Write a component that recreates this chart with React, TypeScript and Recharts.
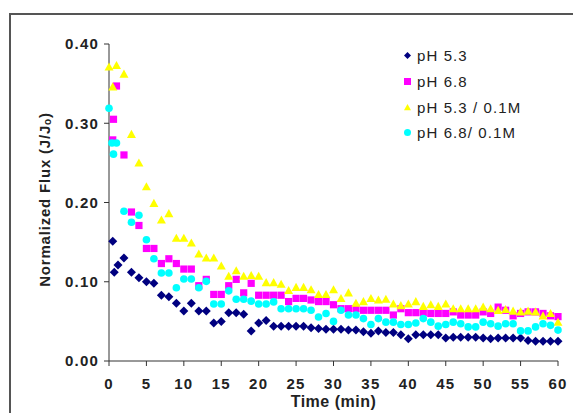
import { ScatterChart, Scatter, XAxis, YAxis, Legend, Label } from "recharts";

// integer minutes shared by all series after the first couple of readings
const minutes = [
  2, 3, 4, 5, 6, 7, 8, 9, 10, 11, 12, 13, 14, 15, 16, 17, 18, 19, 20, 21, 22, 23, 24, 25, 26, 27, 28, 29, 30, 31,
  32, 33, 34, 35, 36, 37, 38, 39, 40, 41, 42, 43, 44, 45, 46, 47, 48, 49, 50, 51, 52, 53, 54, 55, 56, 57, 58, 59, 60,
];

const xTicks = [0, 5, 10, 15, 20, 25, 30, 35, 40, 45, 50, 55, 60];
const yTicks = [0, 0.1, 0.2, 0.3, 0.4];

// pH 5.3
const ph53Start = [0.5, 0.7, 1.2];
const ph53StartFlux = [0.151, 0.112, 0.121];
const ph53Flux = [
  0.13, 0.112, 0.105, 0.1, 0.098, 0.083, 0.081, 0.073, 0.063, 0.073,
  0.063, 0.063, 0.048, 0.05, 0.061, 0.061, 0.059, 0.038, 0.048, 0.051,
  0.044, 0.044, 0.044, 0.044, 0.044, 0.042, 0.041, 0.04, 0.04, 0.04,
  0.039, 0.039, 0.037, 0.035, 0.038, 0.036, 0.036, 0.033, 0.028, 0.033,
  0.033, 0.033, 0.033, 0.029, 0.03, 0.03, 0.03, 0.03, 0.029, 0.028,
  0.029, 0.029, 0.029, 0.029, 0.026, 0.025, 0.025, 0.025, 0.025,
];

// pH 6.8
const ph68Start = [0.5, 0.6, 1];
const ph68StartFlux = [0.279, 0.305, 0.347];
const ph68Flux = [
  0.26, 0.188, 0.171, 0.142, 0.142, 0.123, 0.129, 0.123, 0.116, 0.116,
  0.095, 0.103, 0.084, 0.084, 0.095, 0.103, 0.086, 0.098, 0.083, 0.083,
  0.083, 0.083, 0.075, 0.079, 0.079, 0.077, 0.075, 0.075, 0.071, 0.066,
  0.066, 0.066, 0.064, 0.064, 0.064, 0.064, 0.058, 0.066, 0.061, 0.061,
  0.061, 0.06, 0.06, 0.06, 0.062, 0.058, 0.058, 0.058, 0.062, 0.06,
  0.068, 0.064, 0.057, 0.06, 0.062, 0.062, 0.06, 0.057, 0.056,
];

// pH 5.3 / 0.1M
const ph53SaltStart = [0, 0.5, 1];
const ph53SaltStartFlux = [0.371, 0.346, 0.373];
const ph53SaltFlux = [
  0.362, 0.286, 0.25, 0.22, 0.199, 0.178, 0.186, 0.155, 0.155, 0.149,
  0.135, 0.13, 0.13, 0.12, 0.107, 0.114, 0.107, 0.108, 0.107, 0.099,
  0.099, 0.097, 0.089, 0.093, 0.093, 0.09, 0.084, 0.084, 0.09, 0.079,
  0.086, 0.073, 0.075, 0.079, 0.077, 0.078, 0.072, 0.07, 0.072, 0.075,
  0.069, 0.071, 0.069, 0.072, 0.066, 0.066, 0.066, 0.066, 0.068, 0.066,
  0.064, 0.065, 0.063, 0.062, 0.063, 0.062, 0.057, 0.06, 0.049,
];

// pH 6.8 / 0.1M
const ph68SaltStart = [0, 0.4, 0.6, 1];
const ph68SaltStartFlux = [0.319, 0.275, 0.261, 0.275];
const ph68SaltFlux = [
  0.189, 0.175, 0.184, 0.153, 0.129, 0.111, 0.111, 0.0925, 0.1035, 0.1035,
  0.0925, 0.1005, 0.072, 0.072, 0.0885, 0.078, 0.078, 0.0755, 0.072, 0.072,
  0.0746, 0.066, 0.066, 0.066, 0.066, 0.064, 0.0556, 0.06, 0.05, 0.064,
  0.058, 0.058, 0.0535, 0.046, 0.0535, 0.049, 0.049, 0.046, 0.046, 0.048,
  0.0535, 0.049, 0.044, 0.046, 0.049, 0.047, 0.043, 0.043, 0.049, 0.047,
  0.044, 0.047, 0.047, 0.038, 0.038, 0.043, 0.047, 0.045, 0.039,
];

const toPoints = (start: number[], startFlux: number[], flux: number[]) => [
  ...start.map((t, i) => ({ t, v: startFlux[i] })),
  ...minutes.map((t, i) => ({ t, v: flux[i] })),
];

const FONT = '"Liberation Sans", Arial, sans-serif';

const Diamond = ({ cx, cy, fill, r = 4.5 }: any) => (
  <path d={`M${cx},${cy - r}L${cx + r},${cy}L${cx},${cy + r}L${cx - r},${cy}Z`} fill={fill} />
);
const Square = ({ cx, cy, fill, r = 3.6 }: any) => (
  <rect x={cx - r} y={cy - r} width={r * 2} height={r * 2} fill={fill} />
);
const Triangle = ({ cx, cy, fill, r = 4.5 }: any) => (
  <path d={`M${cx},${cy - r}L${cx + r},${cy + r * 0.8}L${cx - r},${cy + r * 0.8}Z`} fill={fill} />
);
const Dot = ({ cx, cy, fill, r = 3.8 }: any) => <circle cx={cx} cy={cy} r={r} fill={fill} />;

const series = [
  { name: "pH 5.3", color: "#000080", shape: Diamond, data: toPoints(ph53Start, ph53StartFlux, ph53Flux) },
  { name: "pH 6.8", color: "#FF00FF", shape: Square, data: toPoints(ph68Start, ph68StartFlux, ph68Flux) },
  { name: "pH 5.3 / 0.1M", color: "#FFFF00", shape: Triangle, data: toPoints(ph53SaltStart, ph53SaltStartFlux, ph53SaltFlux) },
  { name: "pH 6.8/ 0.1M", color: "#00FFFF", shape: Dot, data: toPoints(ph68SaltStart, ph68SaltStartFlux, ph68SaltFlux) },
];

const tickStyle = { fill: "#222", fontSize: 15, fontWeight: "bold", fontFamily: FONT, letterSpacing: 1.2 };

const renderLegend = () => (
  <div style={{ fontFamily: FONT, fontSize: 15, color: "#222", letterSpacing: 1.1 }}>
    {series.map((s) => {
      const Shape = s.shape;
      return (
        <div key={s.name} style={{ height: 25.7, display: "flex", alignItems: "center" }}>
          <svg width={11} height={11} style={{ marginRight: 4 }}>
            <Shape cx={5.5} cy={5.5} fill={s.color} r={3.5} />
          </svg>
          <span>{s.name}</span>
        </div>
      );
    })}
  </div>
);

const YTitle = ({ viewBox }: any) => {
  const cx = viewBox.x + 44;
  const cy = viewBox.y + viewBox.height / 2 - 3;
  return (
    <text
      x={cx}
      y={cy}
      transform={`rotate(-90, ${cx}, ${cy})`}
      textAnchor="middle"
      dominantBaseline="central"
      fontFamily={FONT}
      fontSize={15}
      fontWeight="bold"
      letterSpacing={0.8}
      fill="#222"
    >
      Normalized Flux (J/J
      <tspan fontSize={10} dy={3}>o</tspan>
      <tspan dy={-3}>)</tspan>
    </text>
  );
};

export default function App() {
  return (
    <div style={{ position: "absolute", left: 0, top: 0, width: 573, height: 413, background: "#fff", overflow: "hidden" }}>
      <div
        style={{
          position: "absolute",
          left: 9,
          top: 13,
          width: 620,
          height: 460,
          border: "2px solid #555",
        }}
      />
      <ScatterChart width={573} height={413} margin={{ top: 44, right: 15, bottom: 0, left: 0 }} style={{ position: "absolute", left: 0, top: 0 }}>
        <XAxis
          type="number"
          dataKey="t"
          domain={[0, 60]}
          ticks={xTicks}
          height={52}
          tickSize={5}
          tickMargin={12}
          stroke="#333"
          tick={tickStyle}
        >
          <Label
            value="Time (min)"
            position="insideBottom"
            offset={6}
            style={{ fontFamily: FONT, fontSize: 16, fontWeight: "bold", fill: "#222", letterSpacing: 0.5 }}
          />
        </XAxis>
        <YAxis
          type="number"
          dataKey="v"
          domain={[0, 0.4]}
          ticks={yTicks}
          width={109}
          tickSize={5}
          tickMargin={5}
          stroke="#333"
          tick={tickStyle}
          tickFormatter={(v: number) => v.toFixed(2)}
          label={<YTitle />}
        />
        <Legend
          layout="horizontal"
          verticalAlign="middle"
          align="center"
          content={renderLegend}
          wrapperStyle={{ top: 43, left: 402, width: 170 }}
        />
        {series.map((s) => (
          <Scatter
            key={s.name}
            name={s.name}
            data={s.data}
            fill={s.color}
            shape={s.shape}
            isAnimationActive={false}
          />
        ))}
      </ScatterChart>
    </div>
  );
}
